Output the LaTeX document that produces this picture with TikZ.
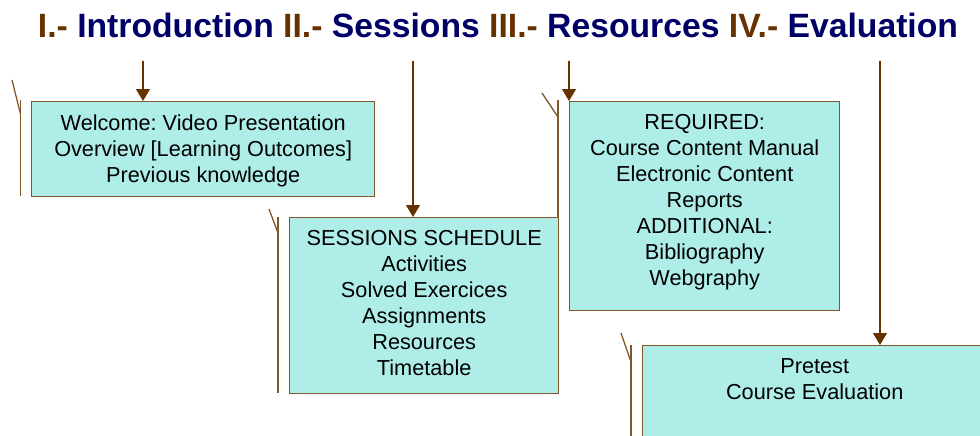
\documentclass[tikz,border=0pt]{standalone}
\usepackage{fontspec}
\setmainfont{Liberation Sans}
\newfontfamily\titlefont{Liberation Sans Bold}
\usetikzlibrary{arrows.meta}
\definecolor{boxfill}{RGB}{175,238,232}
\definecolor{boxdraw}{RGB}{128,88,44}
\definecolor{arrbrown}{RGB}{102,51,0}
\definecolor{navy}{RGB}{0,0,102}
\tikzset{
  box/.style={draw=boxdraw, fill=boxfill, line width=1.4pt, inner sep=0pt, anchor=north west},
  txt/.style={align=center, inner sep=0pt, anchor=north, font=\fontsize{21.7}{26}\selectfont, text=black},
  arr/.style={draw=arrbrown, line width=1.3pt, -{Triangle[width=14pt,length=12pt]}},
  tickline/.style={draw=boxdraw, line width=1.3pt}
}
\frenchspacing
\begin{document}
\begin{tikzpicture}[x=1pt,y=-1pt]
\useasboundingbox (0,0) rectangle (980,436);
\begin{scope}
\clip (0,0) rectangle (980,436);
% title
\node[anchor=base, inner sep=0pt, font=\titlefont\fontsize{33.7}{40}\selectfont, text=navy] (title) at (498,37.5)
  {{\color{arrbrown}I.-} Introduction {\color{arrbrown}II.-} Sessions {\color{arrbrown}III.-} Resources {\color{arrbrown}IV.-} Evaluation};
% boxes
\node[box, minimum width=343pt, minimum height=95pt] (b1) at (31,101) {};
\node[box, minimum width=269pt, minimum height=176pt] (b2) at (289,217) {};
\node[box, minimum width=270pt, minimum height=209pt] (b3) at (569,101) {};
\node[box, minimum width=344pt, minimum height=120pt] (b4) at (642,345) {};
% texts
\node[txt] (t1) at ([yshift=-13.5pt]b1.north) {Welcome: Video Presentation\\Overview [Learning Outcomes]\\Previous knowledge};
\node[txt] (t2) at ([yshift=-13.5pt]b2.north) {SESSIONS SCHEDULE\\Activities\\Solved Exercices\\Assignments\\Resources\\Timetable};
\node[txt] (t3) at ([yshift=-13.5pt]b3.north) {REQUIRED:\\Course Content Manual\\Electronic Content\\Reports\\ADDITIONAL:\\Bibliography\\Webgraphy};
\node[txt] (t4) at ([yshift=-13.5pt]b4.north) {Pretest\\Course Evaluation};
% arrows
\coordinate (a1) at (143,61);
\coordinate (a2) at (413,61);
\coordinate (a3) at (569,61);
\coordinate (a4) at (880,61);
\draw[arr] (a1) -- (a1 |- b1.north);
\draw[arr] (a2) -- (a2 |- b2.north);
\draw[arr] (a3) -- (a3 |- b3.north);
\draw[arr] (a4) -- (a4 |- b4.north);
% left marks
\coordinate (m1a) at (12,80);  \coordinate (m1b) at (20.5,114); \coordinate (m1c) at (20.5,100); \coordinate (m1d) at (20.5,196);
\draw[tickline] (m1a) -- (m1b); \draw[tickline] (m1c) -- (m1d);
\coordinate (m2a) at (269,209); \coordinate (m2b) at (278,233); \coordinate (m2c) at (278,217); \coordinate (m2d) at (278,393);
\draw[tickline] (m2a) -- (m2b); \draw[tickline] (m2c) -- (m2d);
\coordinate (m3a) at (542,93); \coordinate (m3b) at (558,117); \coordinate (m3c) at (558,100); \coordinate (m3d) at (558,217);
\draw[tickline] (m3a) -- (m3b); \draw[tickline] (m3c) -- (m3d);
\coordinate (m4a) at (621,333); \coordinate (m4b) at (631,362); \coordinate (m4c) at (631,345); \coordinate (m4d) at (631,440);
\draw[tickline] (m4a) -- (m4b); \draw[tickline] (m4c) -- (m4d);
\end{scope}
\end{tikzpicture}
\end{document}
